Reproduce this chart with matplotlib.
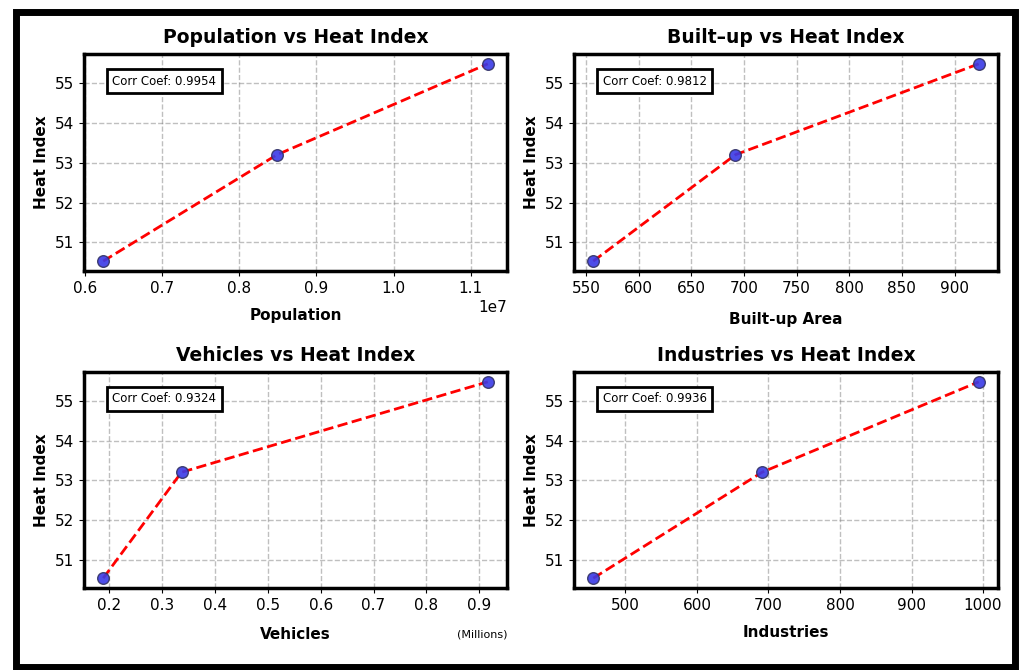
import matplotlib
matplotlib.use("Agg")
import matplotlib.pyplot as plt
from matplotlib.patches import Rectangle

# Data
heat_index = [50.53, 53.2, 55.48]
population = [6.24e6, 8.49e6, 11.22e6]
built_up = [557, 692, 923]
vehicles = [0.189, 0.337, 0.916]   # millions
industries = [455, 691, 994]

titles = ["Population vs Heat Index", "Built\u2013up vs Heat Index",
          "Vehicles vs Heat Index", "Industries vs Heat Index"]
xlabels = ["Population", "Built-up Area", "Vehicles", "Industries"]
corr_coefs = [0.9954, 0.9812, 0.9324, 0.9936]

W, H = 1021, 670
fig = plt.figure(figsize=(W / 100, H / 100), dpi=100)

# axes boxes in pixels: left, top, right, bottom
boxes = [(84, 54, 507, 271), (574, 54, 998, 271),
         (84, 372, 507, 588), (574, 372, 998, 588)]
xdata = [population, built_up, vehicles, industries]
labelpads = [9, 12, 10, 9]

for i, (l, t, r, b) in enumerate(boxes):
    ax = fig.add_axes([l / W, 1 - b / H, (r - l) / W, (b - t) / H])
    ax.plot(xdata[i], heat_index, color="red", linestyle="--", linewidth=2, zorder=3)
    ax.scatter(xdata[i], heat_index, s=70, color="#3a3ae6", edgecolor="#333366",
               linewidth=1, alpha=0.9, zorder=4)
    ax.grid(True, linestyle="--", color="gray", alpha=0.5, linewidth=1)
    ax.set_axisbelow(True)
    for s in ax.spines.values():
        s.set_linewidth(2.5)
    ax.tick_params(labelsize=11)
    ax.set_title(titles[i], fontsize=13.5, fontweight="bold", pad=8)
    ax.set_ylabel("Heat Index", fontsize=11, fontweight="bold")
    ax.set_xlabel(xlabels[i], fontsize=11, fontweight="bold", labelpad=labelpads[i])
    ax.set_yticks([51, 52, 53, 54, 55])
    ax.text(0.19, 0.875, f"Corr Coef: {corr_coefs[i]:.4f}", transform=ax.transAxes,
            ha="center", va="center", fontsize=8.5,
            bbox=dict(boxstyle="square,pad=0.45", facecolor="white",
                      edgecolor="black", linewidth=2))
    ax.yaxis.offsetText.set_fontsize(11)
    ax.xaxis.offsetText.set_fontsize(11)
    if i == 2:
        ax.text(1.0, -0.19, "(Millions)", transform=ax.transAxes,
                ha="right", va="top", fontsize=8)

# outer frame
fig.patches.append(Rectangle((16 / W, 1 - 667 / H), (1015 - 16) / W, (667 - 12) / H,
                             transform=fig.transFigure, fill=False,
                             edgecolor="black", linewidth=5))

fig.savefig("out.png", dpi=100)
